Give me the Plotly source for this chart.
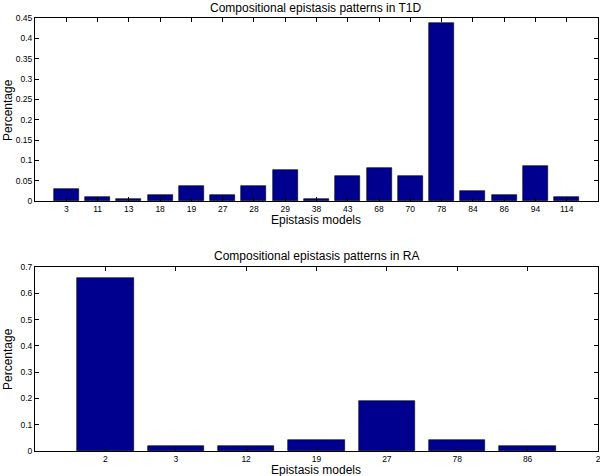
import plotly.graph_objects as go

t1d_models = ["3", "11", "13", "18", "19", "27", "28", "29", "38", "43", "68", "70", "78", "84", "86", "94", "114"]
t1d_values = [0.0286, 0.0095, 0.0048, 0.0143, 0.0381, 0.0143, 0.0381, 0.0762, 0.0048, 0.0619, 0.0810, 0.0619, 0.4365, 0.0238, 0.0143, 0.0857, 0.0095]

ra_models = ["2", "3", "12", "19", "27", "78", "86"]
ra_values = [0.66, 0.02, 0.02, 0.042, 0.192, 0.042, 0.02]
ra_extra_tick = "2"

bar_color = "#00008F"
font_family = "Liberation Sans, Arial, Helvetica, sans-serif"
W, H = 600, 476
L, R = 35, 2

fig = go.Figure()
x1 = list(range(1, len(t1d_models) + 1))
x2 = list(range(1, len(ra_models) + 1))

fig.add_trace(go.Bar(x=x1, y=t1d_values, width=0.8, marker=dict(color=bar_color, line=dict(color="black", width=0.6)),
                     xaxis="x", yaxis="y", showlegend=False))
fig.add_trace(go.Bar(x=x2, y=ra_values, width=0.8, marker=dict(color=bar_color, line=dict(color="black", width=0.6)),
                     xaxis="x2", yaxis="y2", showlegend=False))

def ypix(p):
    return 1 - p / H

def xpix(p):
    return (p - L) / (W - L - R)

axis_common = dict(showgrid=False, zeroline=False, showline=True, linecolor="black", linewidth=1,
                   mirror="ticks", ticks="inside", ticklen=4, tickcolor="black", tickwidth=1,
                   automargin=False,
                   tickfont=dict(size=8.5, color="black", family=font_family))

fig.update_layout(
    width=W, height=H,
    margin=dict(l=L, r=R, t=0, b=0, pad=0),
    paper_bgcolor="white", plot_bgcolor="white",
    font=dict(family=font_family, color="black"),
    bargap=0,
    xaxis=dict(domain=[0, 1], range=[0, len(t1d_models) + 1], tickvals=x1, ticktext=t1d_models,
               anchor="y", **axis_common),
    yaxis=dict(domain=[ypix(201), ypix(18)], range=[0, 0.45], dtick=0.05, tickformat="~g",
               anchor="x", **axis_common),
    xaxis2=dict(domain=[0, 1], range=[0, len(ra_models) + 1], tickvals=x2 + [len(ra_models) + 1],
                ticktext=ra_models + [ra_extra_tick], anchor="y2", ticklabeloverflow="allow",
                **axis_common),
    yaxis2=dict(domain=[ypix(451), ypix(267)], range=[0, 0.7], dtick=0.1, tickformat="~g",
                anchor="x2", **axis_common),
)

ann = [
    dict(text="Compositional epistasis patterns in T1D", x=xpix(316), y=ypix(8), font_size=12),
    dict(text="Epistasis models", x=xpix(316), y=ypix(220), font_size=12),
    dict(text="Percentage", x=xpix(8), y=ypix(110), font_size=12, textangle=-90),
    dict(text="Compositional epistasis patterns in RA", x=xpix(316), y=ypix(256), font_size=12),
    dict(text="Epistasis models", x=xpix(316), y=ypix(469.5), font_size=12),
    dict(text="Percentage", x=xpix(8), y=ypix(359), font_size=12, textangle=-90),
]
for a in ann:
    a.update(showarrow=False, xanchor="center", yanchor="middle", xref="paper", yref="paper", borderpad=0)
fig.update_layout(annotations=ann)

fig.write_html("out.html", config={"displayModeBar": False},
               post_script="document.body.style.margin='0';document.body.style.overflow='hidden';")
